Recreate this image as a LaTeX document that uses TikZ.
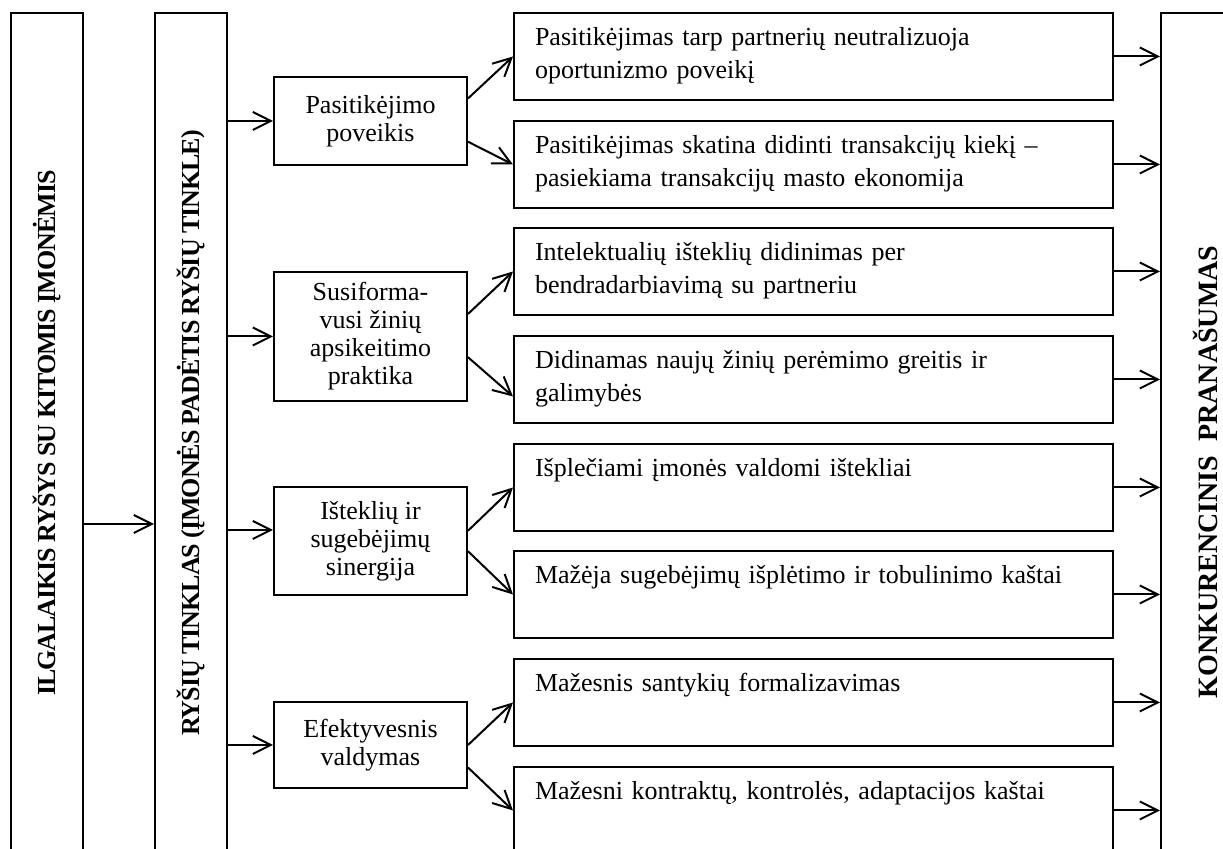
\documentclass[tikz,border=0pt]{standalone}
\usepackage{fontspec}
\setmainfont{Liberation Serif}
\usetikzlibrary{arrows.meta}
\tikzstyle{bar}=[draw=black,line width=1pt,minimum width=36pt,inner sep=0pt,font=\fontsize{13}{15}\selectfont\bfseries\addfontfeatures{LetterSpace=-4}]
\tikzstyle{mbox}=[draw=black,line width=1pt,minimum width=96.5pt,inner sep=0pt,align=center,font=\fontsize{13}{14}\selectfont]
\tikzstyle{rbox}=[draw=black,line width=1pt,text width=278.5pt,inner xsep=10.5pt,inner ysep=0pt,text height=16.5pt,text depth=27pt,align=left,font=\fontsize{13}{16.5}\selectfont]
\tikzstyle{link}=[-{Straight Barb[length=9pt,width=9pt]},line width=1pt]

\begin{document}
\begin{tikzpicture}[x=0.5pt,y=-0.5pt]
\useasboundingbox (0,0) rectangle (1223,849);
\clip (0,0) rectangle (1223,849);
% the three long bars
\node[bar,minimum height=420pt] (ilg) at (47,433) {\rotatebox{90}{ILGALAIKIS RYŠYS SU KITOMIS ĮMONĖMIS}};
\node[bar,minimum height=420pt] (tin) at (191,433) {\rotatebox{90}{RYŠIŲ TINKLAS (ĮMONĖS PADĖTIS RYŠIŲ TINKLE)}};
\node[bar,minimum width=44pt,minimum height=459pt,font=\fontsize{14}{16}\selectfont\bfseries] (kon) at (1205,472) {\rotatebox{90}{KONKURENCINIS\ \ PRANAŠUMAS}};
% middle column
\node[mbox,minimum height=44pt] (m1) at (370.5,121) {Pasitikėjimo\\poveikis};
\node[mbox,minimum height=64.5pt] (m2) at (370.5,336.5) {Susiforma-\\vusi žinių\\apsikeitimo\\praktika};
\node[mbox,minimum height=54pt] (m3) at (370.5,541) {Išteklių ir\\sugebėjimų\\sinergija};
\node[mbox,minimum height=43pt] (m4) at (370.5,745) {Efektyvesnis\\valdymas};
% right column
\node[rbox] (r1) at (813.5,56.5) {Pasitikėjimas tarp partnerių neutralizuoja\\oportunizmo poveikį};
\node[rbox] (r2) at (813.5,164.5) {Pasitikėjimas skatina didinti transakcijų kiekį --\\pasiekiama transakcijų masto ekonomija};
\node[rbox] (r3) at (813.5,271.5) {Intelektualių išteklių didinimas per\\bendradarbiavimą su partneriu};
\node[rbox] (r4) at (813.5,379.5) {Didinamas naujų žinių perėmimo greitis ir\\galimybės};
\node[rbox] (r5) at (813.5,487.5) {Išplečiami įmonės valdomi ištekliai};
\node[rbox] (r6) at (813.5,594.5) {Mažėja sugebėjimų išplėtimo ir tobulinimo kaštai};
\node[rbox] (r7) at (813.5,702.5) {Mažesnis santykių formalizavimas};
\node[rbox] (r8) at (813.5,810.5) {Mažesni kontraktų, kontrolės, adaptacijos kaštai};
% arrows
\draw[link] (ilg.east |- 0,524) -- (tin.west |- 0,524);
\draw[link] (tin.east |- m1.west) -- (m1.west);\draw[link] (tin.east |- m2.west) -- (m2.west);
\draw[link] (tin.east |- 0,530) -- (m3.west |- 0,530);\draw[link] (tin.east |- m4.west) -- (m4.west);
\draw[link] (m1.13) -- (r1.west);\draw[link] (m1.-12) -- (r2.west);
\draw[link] (m2.13) -- (r3.west);\draw[link] (m2.-12) -- ([yshift=-8.5pt]r4.west);
\draw[link] (m3.6.5) -- (r5.west);\draw[link] (m3.-6.5) -- (r6.west);
\draw[link] (m4.east) -- (r7.west);\draw[link] (m4.-13) -- (r8.west);
\draw[link] (r1.east) -- (kon.west |- r1.east);\draw[link] (r2.east) -- (kon.west |- r2.east);
\draw[link] (r3.east) -- (kon.west |- r3.east);\draw[link] (r4.east) -- (kon.west |- r4.east);
\draw[link] (r5.east) -- (kon.west |- r5.east);\draw[link] (r6.east) -- (kon.west |- r6.east);
\draw[link] (r7.east) -- (kon.west |- r7.east);\draw[link] (r8.east) -- (kon.west |- r8.east);
\end{tikzpicture}
\end{document}
